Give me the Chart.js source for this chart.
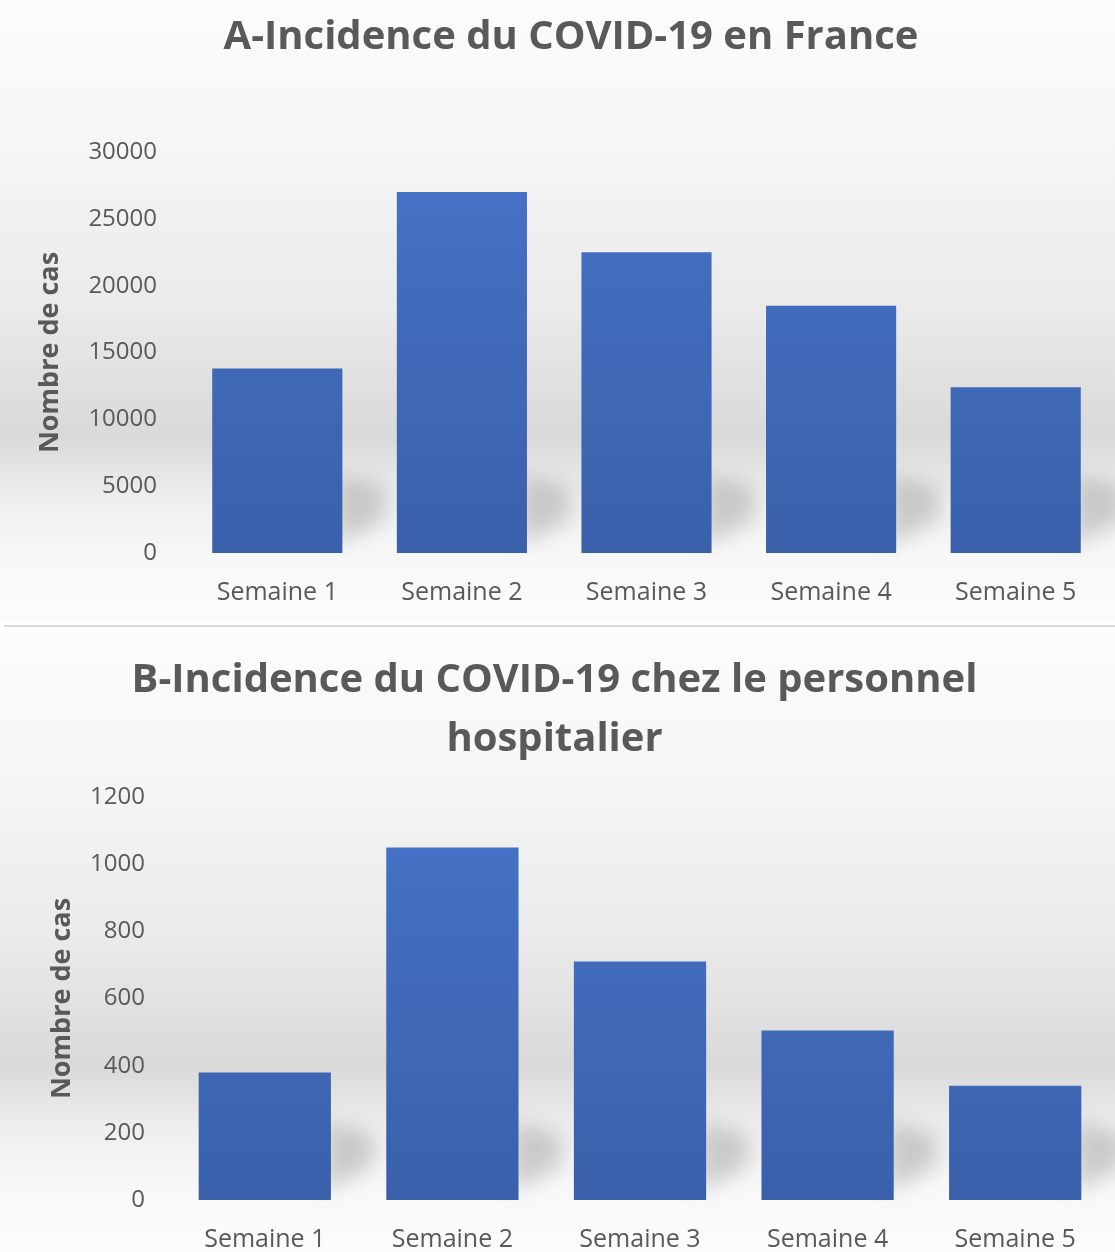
<!DOCTYPE html>
<html lang="fr">
<head>
<meta charset="utf-8">
<title>Incidence du COVID-19</title>
<script src="https://cdn.jsdelivr.net/npm/chart.js@4.4.1/dist/chart.umd.min.js"></script>
<style>
  html, body { margin: 0; padding: 0; background: #ffffff; }
  .bloc { position: relative; width: 1115px; height: 622px; }
  .separateur { position: relative; width: 1115px; height: 8px; }
  .separateur::after { content: ''; position: absolute; left: 4px; right: 0; top: 3px; height: 2px; background: #d6d6d6; }
</style>
</head>
<body>
<div class="bloc"><canvas id="chartFrance"></canvas></div>
<div class="separateur"></div>
<div class="bloc"><canvas id="chartHopital"></canvas></div>
<script>
// Données
const semaines = ['Semaine 1', 'Semaine 2', 'Semaine 3', 'Semaine 4', 'Semaine 5'];
const casFrance = [13800, 27000, 22500, 18500, 12400];
const casHopital = [380, 1050, 710, 505, 340];
const graduationsFrance = [0, 5000, 10000, 15000, 20000, 25000, 30000];
const graduationsHopital = [0, 200, 400, 600, 800, 1000, 1200];

const titreFrance = 'A-Incidence du COVID-19 en France';
const titreHopital = ['B-Incidence du COVID-19 chez le personnel', 'hospitalier'];
const titreAxeY = 'Nombre de cas';

Chart.defaults.font.family = "'Open Sans', 'DejaVu Sans', sans-serif";
Chart.defaults.color = '#595959';

// Fond gris dégradé façon Excel
const fondDegrade = {
    id: 'fondDegrade',
    beforeDraw(chart) {
        const c = chart.ctx;
        const h = chart.height;
        const g = c.createLinearGradient(0, 0, 0, h);
        g.addColorStop(0, '#fcfcfc');
        g.addColorStop(0.2, '#f7f7f7');
        g.addColorStop(0.5, '#eaeaea');
        g.addColorStop(0.7, '#d9d9d9');
        g.addColorStop(0.8, '#eeeeee');
        g.addColorStop(0.9, '#f8f8f8');
        g.addColorStop(1, '#fcfcfc');
        c.save();
        c.fillStyle = g;
        c.fillRect(0, 0, chart.width, h);
        c.restore();
    }
};

// Ombre portée diffuse à droite du pied de chaque barre
const ombreBarres = {
    id: 'ombreBarres',
    beforeDatasetsDraw(chart) {
        const c = chart.ctx;
        const base = chart.scales.y.getPixelForValue(0);
        c.save();
        c.filter = 'blur(10px)';
        c.fillStyle = 'rgba(110, 110, 110, 0.30)';
        chart.getDatasetMeta(0).data.forEach(bar => {
            const r = bar.x + bar.width / 2 - 6;
            c.beginPath();
            c.moveTo(r, base - 8);
            c.lineTo(r, base - 78);
            c.lineTo(r + 48, base - 66);
            c.lineTo(r + 48, base - 34);
            c.closePath();
            c.fill();
        });
        c.restore();
    }
};

function couleurBarre(context) {
    const chart = context.chart;
    const area = chart.chartArea;
    if (!area) return '#4270c0';
    const g = chart.ctx.createLinearGradient(0, area.top, 0, area.bottom);
    g.addColorStop(0, '#4573c6');
    g.addColorStop(1, '#3a60aa');
    return g;
}

function creerGraphique(id, titre, valeurs, graduations, mise) {
    const ctx = document.getElementById(id).getContext('2d');
    return new Chart(ctx, {
        type: 'bar',
        data: {
            labels: semaines,
            datasets: [{
                data: valeurs,
                backgroundColor: couleurBarre,
                borderWidth: 0,
                categoryPercentage: 1,
                barPercentage: 0.705
            }]
        },
        plugins: [fondDegrade, ombreBarres],
        options: {
            responsive: true,
            maintainAspectRatio: false,
            animation: false,
            layout: { padding: { left: mise.gauche, right: mise.droite, top: 0, bottom: 0 } },
            plugins: {
                legend: { display: false },
                tooltip: { enabled: false },
                title: {
                    display: true,
                    text: titre,
                    color: '#595959',
                    font: { size: 40, weight: 'bold', lineHeight: mise.interligne },
                    padding: { top: mise.titreHaut, bottom: mise.titreBas }
                }
            },
            scales: {
                x: {
                    grid: { display: false, drawTicks: false, tickLength: 0 },
                    border: { display: false },
                    ticks: { font: { size: 25 }, padding: mise.padX, color: '#595959' },
                    afterFit: (scale) => { scale.height = mise.hauteurX; }
                },
                y: {
                    min: graduations[0],
                    max: graduations[graduations.length - 1],
                    grid: { display: false, drawTicks: false, tickLength: 0 },
                    border: { display: false },
                    afterBuildTicks: (scale) => {
                        scale.ticks = graduations.map(v => ({ value: v }));
                    },
                    ticks: {
                        font: { size: 24 },
                        padding: mise.padY,
                        color: '#595959',
                        callback: (v) => String(v)
                    },
                    title: {
                        display: true,
                        text: titreAxeY,
                        color: '#595959',
                        font: { size: 27, weight: 'bold' },
                        padding: { top: mise.titreYHaut, bottom: 0 }
                    },
                    afterFit: (scale) => { scale.width = mise.largeurY; }
                }
            }
        }
    });
}

creerGraphique('chartFrance', titreFrance, casFrance, graduationsFrance, {
    gauche: 34, droite: 7, interligne: 1.2, titreHaut: 14, titreBas: 90,
    padX: 25, hauteurX: 69, padY: 28, titreYHaut: 0, largeurY: 151
});

creerGraphique('chartHopital', titreHopital, casHopital, graduationsHopital, {
    gauche: 0, droite: 6, interligne: 1.475, titreHaut: 21, titreBas: 28,
    padX: 25, hauteurX: 52, padY: 26, titreYHaut: 46, largeurY: 171
});
</script>
</body>
</html>
